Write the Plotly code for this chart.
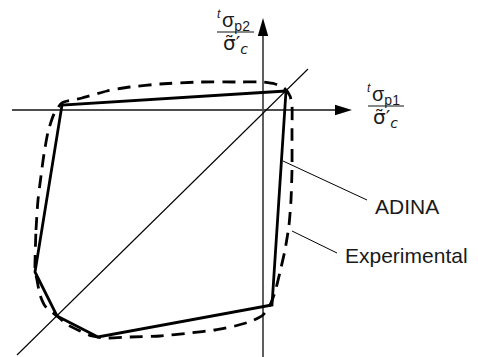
import plotly.graph_objects as go

# Normalised principal stresses (sigma_p1 / sigma_c, sigma_p2 / sigma_c)
adina_s1 = [0.115, -1.005, -1.14, -1.03, -0.825, 0.045, 0.115]
adina_s2 = [0.095, 0.025, -0.81, -1.03, -1.135, -0.975, 0.095]

exp_s1 = [-1.14, -1.135, -1.125, -1.11, -1.095, -1.075, -1.045, -1.005, -0.905,
          -0.78, -0.665, -0.515, -0.315, -0.115, -0.005, 0.06, 0.105, 0.135,
          0.145, 0.145, 0.145, 0.14, 0.13, 0.11, 0.085, 0.06, 0.035, 0.0,
          -0.055, -0.14, -0.24, -0.365, -0.515, -0.665, -0.79, -0.855, -0.915,
          -0.975, -1.03, -1.09, -1.115, -1.13, -1.14, -1.14]
exp_s2 = [-0.76, -0.6, -0.45, -0.33, -0.22, -0.11, -0.02, 0.035, 0.06,
          0.095, 0.115, 0.13, 0.14, 0.14, 0.14, 0.13, 0.11, 0.07,
          0.02, -0.1, -0.3, -0.45, -0.575, -0.7, -0.81, -0.91, -0.975, -1.025,
          -1.055, -1.08, -1.1, -1.115, -1.13, -1.135, -1.14, -1.13, -1.105,
          -1.075, -1.03, -0.98, -0.925, -0.85, -0.8, -0.76]

# Equal-stress diagonal
diag_s1 = [-1.23, 0.225]
diag_s2 = [-1.225, 0.205]

series_names = ["ADINA", "Experimental"]

# Plot frame: 200 px per unit, origin at pixel (263, 110)
SCALE, OX, OY = 200.0, 263.0, 110.0
def P(px, py):
    return (px - OX) / SCALE, (OY - py) / SCALE

fig = go.Figure()

def line(xs, ys, color="#000", width=1.0, **kw):
    fig.add_trace(go.Scatter(x=xs, y=ys, mode="lines",
                             line=dict(color=color, width=width, **kw),
                             hoverinfo="skip"))

def tri(pts):
    xs = [p[0] for p in pts] + [pts[0][0]]
    ys = [p[1] for p in pts] + [pts[0][1]]
    fig.add_trace(go.Scatter(x=xs, y=ys, mode="lines", fill="toself",
                             fillcolor="#000", line=dict(width=0, color="#000"),
                             hoverinfo="skip"))

# Coordinate axes with arrow heads
line([-1.255, 0.40], [0, 0], color="#4d4d4d", width=1.8)
line([0, 0], [-1.3, 0.41], color="#4d4d4d", width=1.8)
tri([(0.36, 0.026), (0.445, 0), (0.36, -0.026)])
tri([(-0.026, 0.37), (0, 0.46), (0.026, 0.37)])

# Diagonal
line(diag_s1, diag_s2, width=1.1)

# Experimental envelope
fig.add_trace(go.Scatter(x=exp_s1, y=exp_s2, mode="lines", name=series_names[1],
                         line=dict(color="#000", width=2.8, dash="13px,8px",
                                   shape="spline", smoothing=0.6)))
# ADINA envelope
fig.add_trace(go.Scatter(x=adina_s1, y=adina_s2, mode="lines", name=series_names[0],
                         line=dict(color="#000", width=2.8)))

# Leader lines
line([0.1, 0.52], [-0.255, -0.45])
line([0.145, 0.37], [-0.605, -0.715])

# Fraction bars of the axis titles
a, b = P(217, 32), P(254, 32)
line([a[0], b[0]], [a[1], b[1]], color="#111", width=1.2)
a, b = P(368, 106), P(404, 106)
line([a[0], b[0]], [a[1], b[1]], color="#111", width=1.2)

FAMILY = "Liberation Sans, Arial, sans-serif"
ann = []
def label(text, px, py, size, xanchor="center", yanchor="middle", family=FAMILY):
    x, y = P(px, py)
    ann.append(dict(text=text, x=x, y=y, xref="x", yref="y", showarrow=False,
                    xanchor=xanchor, yanchor=yanchor,
                    font=dict(size=size, family=family, color="#1a1a1a")))

def stress_title(px, py, sub):
    # numerator: superscript t, sigma with subscript
    label("<i>t</i>", px - 13, py - 16, 12)
    label("σ<sub>" + sub + "</sub>", px + 4, py - 9, 20)
    # denominator: sigma tilde prime, subscript c
    label("σ\u0303\u2032<sub><i>c</i></sub>", px + 3, py + 14, 20,
          family="DejaVu Sans, Liberation Sans, sans-serif")

stress_title(232, 30, "p2")
stress_title(382, 104, "p1")

label(series_names[0], 373, 206, 21, "left")
label(series_names[1], 343, 255, 21, "left")

fig.update_layout(
    width=478, height=357,
    margin=dict(l=0, r=0, t=0, b=0),
    paper_bgcolor="white", plot_bgcolor="white",
    showlegend=False,
    xaxis=dict(range=[-1.315, 1.075], visible=False, fixedrange=True),
    yaxis=dict(range=[-1.235, 0.55], visible=False, fixedrange=True),
    annotations=ann,
)

fig.write_html("out.html")
